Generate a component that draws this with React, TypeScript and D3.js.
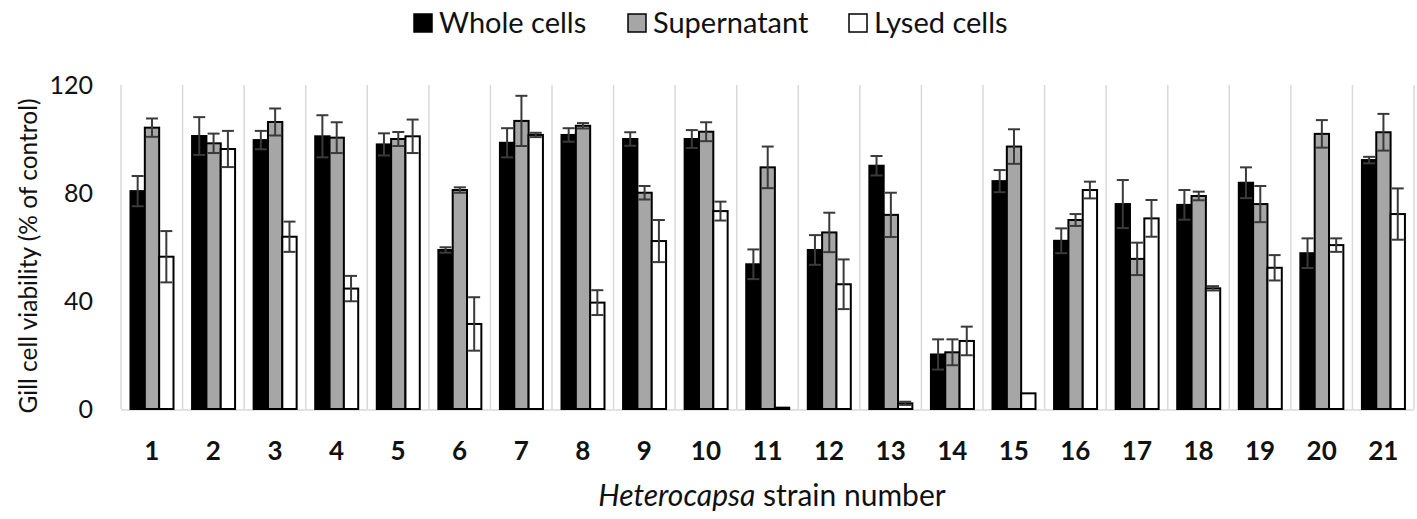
import { useEffect, useRef } from 'react';
import * as d3 from 'd3';

const strains = ['1', '2', '3', '4', '5', '6', '7', '8', '9', '10', '11', '12', '13', '14', '15', '16', '17', '18', '19', '20', '21'];
const seriesNames = ['Whole cells', 'Supernatant', 'Lysed cells'];

const wholeCells = [80.7, 101.1, 99.6, 101, 98, 58.9, 98.6, 101.5, 100, 100, 53.6, 58.9, 90.1, 20.2, 84.4, 62.3, 75.9, 75.6, 83.8, 57.7, 92.2];
const wholeErr = [5.6, 7, 3.4, 7.8, 4.1, 1, 5.4, 2.5, 2.5, 3.3, 5.5, 5.5, 3.6, 5.6, 4.1, 4.6, 8.9, 5.5, 5.7, 5.5, 1.2];
const supernatant = [104.2, 98.4, 106.3, 100.5, 100, 81.1, 106.7, 104.9, 80.1, 102.7, 89.5, 65.4, 71.9, 21, 97.2, 70, 55.6, 78.9, 75.9, 101.9, 102.5];
const supernatantErr = [3.4, 3.6, 5, 5.7, 2.6, 1, 9.3, 1, 2.5, 3.5, 7.7, 7.3, 8.2, 4.8, 6.4, 2.2, 6, 1.6, 6.7, 5.1, 6.8];
const lysedCells = [56.4, 96.3, 63.8, 44.6, 101, 31.5, 101.5, 39.4, 62.2, 73.3, 0.5, 46.2, 2.1, 25.2, 5.8, 81.1, 70.6, 44.7, 52.3, 60.7, 72.2];
const lysedErr = [9.5, 6.7, 5.6, 4.7, 6.2, 9.9, 0.8, 4.6, 7.8, 3.5, 0, 9.2, 0.6, 5.3, 0, 3.1, 6.8, 0.8, 4.7, 2.5, 9.5];

const yTicks = [0, 40, 80, 120];

const fills = ['#000000', '#a6a6a6', '#ffffff'];
const font = 'Lato, "Open Sans", sans-serif';

export default function App() {
  const svgRef = useRef<SVGSVGElement>(null);

  useEffect(() => {
    if (!svgRef.current) return;
    const svg = d3.select(svgRef.current);
    svg.selectAll('*').remove();

    const left = 121;
    const right = 1414;
    const top = 85;
    const bottom = 409;

    const x = d3.scaleBand().domain(strains).range([left, right]).paddingInner(0).paddingOuter(0);
    const x1 = d3.scaleBand().domain(seriesNames).range([9.5, 52.5]);
    const y = d3.scaleLinear().domain([0, 120]).range([bottom, top]);

    const values = [wholeCells, supernatant, lysedCells];
    const errors = [wholeErr, supernatantErr, lysedErr];

    // vertical category separators
    svg.append('g').selectAll('line')
      .data(d3.range(strains.length + 1))
      .enter().append('line')
      .attr('x1', i => left + i * x.bandwidth())
      .attr('x2', i => left + i * x.bandwidth())
      .attr('y1', top)
      .attr('y2', bottom)
      .attr('stroke', '#d9d9d9')
      .attr('stroke-width', 1.5);

    // baseline
    svg.append('line')
      .attr('x1', left).attr('x2', right)
      .attr('y1', bottom + 1).attr('y2', bottom + 1)
      .attr('stroke', '#d9d9d9')
      .attr('stroke-width', 1.5);

    // bars
    seriesNames.forEach((name, s) => {
      svg.append('g').selectAll('rect')
        .data(values[s])
        .enter().append('rect')
        .attr('x', (_d, i) => (x(strains[i]) ?? 0) + (x1(name) ?? 0))
        .attr('width', x1.bandwidth())
        .attr('y', d => y(d))
        .attr('height', d => y(0) - y(d))
        .attr('fill', fills[s])
        .attr('stroke', '#000')
        .attr('stroke-width', 2);
    });

    // error bars
    seriesNames.forEach((name, s) => {
      const g = svg.append('g').attr('stroke', '#3a3a3a').attr('stroke-width', 2).attr('fill', 'none');
      values[s].forEach((v, i) => {
        const e = errors[s][i];
        if (e <= 0) return;
        const cx = (x(strains[i]) ?? 0) + (x1(name) ?? 0) + x1.bandwidth() / 2;
        const lo = y(Math.max(0, v - e));
        const hi = y(v + e);
        g.append('line').attr('x1', cx).attr('x2', cx).attr('y1', lo).attr('y2', hi);
        g.append('line').attr('x1', cx - 6).attr('x2', cx + 6).attr('y1', lo).attr('y2', lo);
        g.append('line').attr('x1', cx - 6).attr('x2', cx + 6).attr('y1', hi).attr('y2', hi);
      });
    });

    // y tick labels
    svg.append('g').selectAll('text')
      .data(yTicks)
      .enter().append('text')
      .attr('x', 93)
      .attr('y', d => y(d))
      .attr('dy', '0.36em')
      .attr('text-anchor', 'end')
      .style('font-family', font)
      .style('font-size', '25px')
      .style('fill', '#111')
      .text(d => d);

    // x tick labels
    svg.append('g').selectAll('text')
      .data(strains)
      .enter().append('text')
      .attr('x', d => (x(d) ?? 0) + x.bandwidth() / 2)
      .attr('y', 460)
      .attr('text-anchor', 'middle')
      .style('font-family', font)
      .style('font-size', '26px')
      .style('font-weight', 'bold')
      .style('fill', '#111')
      .text(d => d);

    // x axis title
    const xt = svg.append('text')
      .attr('x', 772)
      .attr('y', 506)
      .attr('text-anchor', 'middle')
      .style('font-family', font)
      .style('font-size', '30px')
      .style('fill', '#111');
    xt.append('tspan').style('font-style', 'italic').text('Heterocapsa');
    xt.append('tspan').text(' strain number');

    // y axis title
    svg.append('text')
      .attr('transform', 'translate(37, 256) rotate(-90)')
      .attr('text-anchor', 'middle')
      .style('font-family', font)
      .style('font-size', '24.5px')
      .style('fill', '#111')
      .text('Gill cell viability (% of control)');

    // legend
    const legendX = [414, 628, 849];
    const items = svg.append('g').selectAll('g')
      .data(seriesNames)
      .enter().append('g')
      .attr('transform', (_d, i) => `translate(${legendX[i]}, 14)`);
    items.append('rect')
      .attr('width', 18)
      .attr('height', 18)
      .attr('fill', (_d, i) => fills[i])
      .attr('stroke', '#000')
      .attr('stroke-width', 1.5);
    items.append('text')
      .attr('x', 25)
      .attr('y', 19)
      .style('font-family', font)
      .style('font-size', '29px')
      .style('fill', '#111')
      .text(d => d);
  }, []);

  return (
    <svg
      ref={svgRef}
      width={1417}
      height={519}
      style={{ position: 'absolute', left: 0, top: 0, background: '#fff' }}
    ></svg>
  );
}
